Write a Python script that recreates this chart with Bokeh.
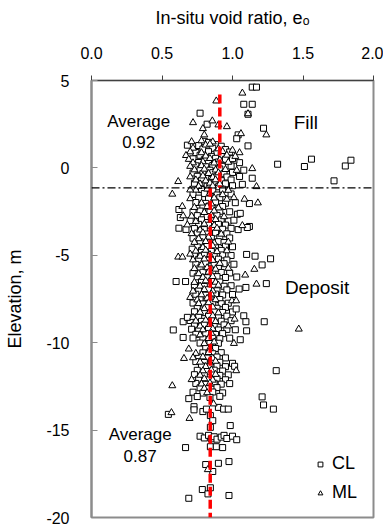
from bokeh.plotting import figure
from bokeh.models import (ColumnDataSource, Range1d, FixedTicker, Legend, LegendItem,
                          Span, Label, NumeralTickFormatter, PrintfTickFormatter)
from bokeh.embed import file_html
from bokeh.resources import INLINE

# ---------------- data ----------------
x_ticks = [0.0, 0.5, 1.0, 1.5, 2.0]
y_ticks = [-20, -15, -10, -5, 0, 5]

boundary_elev = -1.14          # fill / deposit boundary
fill_avg_x = 0.91              # drawn position of fill average line
fill_avg_top = 4.2
deposit_avg_x = 0.842          # drawn position of deposit average line

cl_fill_outliers = [(1.14, 4.62), (1.17, 4.62), (1.08, 3.64), (1.14, 3.64), (1.11, 3.07), (0.77, 3.13),
                    (0.82, 2.5), (1.22, 2.27), (1.04, 1.89), (1.03, 1.67), (0.68, 1.3), (1.11, 1.26),
                    (1.32, 0.21), (1.51, 0.08), (1.56, 0.5), (1.80, 0.11), (1.84, 0.44), (1.72, -0.74),
                    (1.14, -0.59), (1.08, -0.13), (1.05, 0.3), (1.01, 0.44)]
ml_fill_outliers = [(1.07, 4.28), (0.885, 3.83), (1.11, 3.1), (0.72, 2.59), (0.79, 2.25), (0.857, 2.69),
                    (0.90, 2.46), (0.96, 2.36), (0.80, 1.89), (0.71, 1.5), (1.06, 1.96), (1.24, 1.89),
                    (1.0, 1.01), (1.05, 0.87), (1.14, -0.04), (0.615, -0.78)]

cl_fill_core = [(0.80, 1.52), (0.83, 1.46), (0.76, 1.28), (0.88, 1.33), (0.92, 1.24), (0.79, 1.08),
                (0.86, 1.12), (0.95, 1.05), (0.74, 0.88), (0.83, 0.93), (0.89, 0.86), (0.98, 0.91),
                (0.77, 0.72), (0.85, 0.66), (0.92, 0.74), (0.72, 0.52), (0.80, 0.47), (0.88, 0.55),
                (0.95, 0.49), (1.00, 0.53), (0.76, 0.31), (0.83, 0.26), (0.90, 0.34), (0.74, 0.12),
                (0.81, 0.07), (0.86, 0.14), (0.93, 0.09), (0.99, 0.11), (0.77, -0.08), (0.84, -0.13),
                (0.91, -0.06), (0.72, -0.29), (0.79, -0.33), (0.86, -0.27), (0.94, -0.31), (1.00, -0.26),
                (0.75, -0.48), (0.82, -0.53), (0.89, -0.47), (0.96, -0.52), (1.05, -0.49), (0.78, -0.71),
                (0.85, -0.67), (0.92, -0.73), (0.99, -0.69), (0.73, -0.88), (0.80, -0.93), (0.87, -0.86),
                (0.95, -0.91), (1.07, -0.94), (0.82, -1.04), (0.90, -1.08), (1.00, -1.02)]
ml_fill_core = [(0.78, 1.55), (0.86, 1.49), (0.81, 1.31), (0.84, 1.36), (0.72, 1.13), (0.90, 1.09),
                (0.70, 0.92), (0.78, 0.87), (0.93, 0.94), (0.67, 0.71), (0.81, 0.68), (0.96, 0.73),
                (1.02, 0.66), (0.69, 0.49), (0.84, 0.54), (0.91, 0.46), (0.72, 0.29), (0.79, 0.35),
                (0.87, 0.28), (0.97, 0.32), (0.70, 0.09), (0.78, 0.13), (0.73, -0.11), (0.80, -0.07),
                (0.88, -0.12), (0.95, -0.09), (1.03, -0.14), (0.83, -0.32), (0.90, -0.28), (0.70, -0.51),
                (0.79, -0.46), (0.86, -0.54), (0.74, -0.69), (0.81, -0.74), (0.88, -0.68), (0.77, -0.91),
                (0.84, -0.87), (0.91, -0.92), (0.76, -1.06), (0.86, -1.03)]

cl_dep_outliers = [(1.12, -2.04), (0.62, -2.38), (0.63, -2.84), (0.62, -3.45), (1.035, -2.65), (1.055, -2.6),
                   (1.12, -3.35), (1.105, -3.41), (0.714, -4.65), (1.10, -4.95), (1.16, -5.05), (1.27, -5.2),
                   (1.21, -5.55), (0.60, -6.5), (0.667, -6.5), (1.24, -6.62), (1.095, -6.84), (1.047, -6.93),
                   (1.08, -8.46), (1.095, -8.8), (1.225, -8.8), (1.10, -9.32), (0.58, -9.27), (0.65, -9.7),
                   (0.65, -8.8), (0.68, -8.55), (1.026, -8.07), (1.055, -9.83), (1.0, -11.18), (1.015, -11.35),
                   (1.31, -11.6), (1.21, -13.1), (1.22, -13.56), (1.29, -13.8), (0.545, -14.1), (0.69, -13.2),
                   (0.727, -13.66), (0.727, -13.84), (0.79, -13.94), (0.815, -13.8), (0.90, -13.7),
                   (0.937, -13.8), (0.97, -13.8), (0.984, -14.74), (0.843, -14.17), (0.86, -14.46),
                   (0.843, -14.84), (0.77, -15.35), (0.80, -15.45), (0.83, -15.3), (0.85, -15.5),
                   (0.87, -15.38), (0.89, -15.52), (0.92, -15.4), (0.94, -15.3), (0.96, -15.48),
                   (1.0, -15.35), (1.03, -15.55), (0.667, -16.0), (0.843, -15.95), (0.885, -15.95),
                   (0.93, -16.0), (0.81, -16.97), (0.86, -17.37), (0.90, -16.9), (0.975, -16.8),
                   (0.786, -18.4), (0.843, -18.3), (0.826, -18.65), (0.69, -18.9), (0.975, -18.74)]
ml_dep_outliers = [(0.573, -1.5), (0.70, -1.26), (1.17, -1.07), (1.18, -2.0), (1.085, -1.79), (1.01, -1.7),
                   (0.644, -2.2), (0.65, -2.74), (1.07, -3.3), (0.615, -5.1), (0.645, -5.1), (0.70, -4.93),
                   (1.155, -5.8), (1.09, -6.13), (1.17, -6.65), (0.70, -7.41), (0.996, -7.6), (1.026, -7.6),
                   (1.015, -8.65), (1.47, -9.22), (0.656, -10.9), (0.69, -10.36), (1.026, -11.6),
                   (1.01, -10.04), (0.573, -12.46), (0.567, -14.0), (0.695, -14.33), (0.866, -13.5),
                   (0.825, -17.26)]

cl_dep_core = [(0.78, -1.24), (0.86, -1.30), (0.93, -1.22), (0.72, -1.52), (0.80, -1.47), (0.89, -1.55),
               (0.99, -1.49), (0.76, -1.73), (0.83, -1.78), (0.91, -1.71), (0.74, -1.98), (0.81, -2.03),
               (0.88, -1.96), (0.95, -2.02), (1.02, -1.99), (0.79, -2.23), (0.86, -2.28), (0.93, -2.21),
               (0.72, -2.52), (0.77, -2.47), (0.84, -2.53), (0.91, -2.48), (0.98, -2.51), (0.75, -2.73),
               (0.82, -2.78), (0.89, -2.72), (0.70, -3.02), (0.78, -2.97), (0.85, -3.03), (0.92, -2.98),
               (0.97, -3.04), (1.01, -2.99), (0.76, -3.23), (0.83, -3.28), (0.90, -3.22), (0.95, -3.27),
               (0.67, -3.52), (0.73, -3.47), (0.80, -3.53), (0.86, -3.48), (0.93, -3.51), (0.99, -3.46),
               (1.04, -3.53), (0.75, -3.73), (0.82, -3.78), (0.88, -3.72), (0.96, -3.77), (0.72, -4.02),
               (0.79, -3.97), (0.85, -4.03), (0.91, -3.98), (0.98, -4.01), (0.77, -4.23), (0.84, -4.28),
               (0.90, -4.22), (0.94, -4.27), (0.75, -4.52), (0.82, -4.47), (0.88, -4.53), (0.95, -4.48),
               (1.00, -4.51), (0.78, -4.73), (0.85, -4.78), (0.92, -4.72), (0.73, -5.02), (0.80, -4.97),
               (0.87, -5.03), (0.93, -4.98), (0.99, -5.01), (0.76, -5.23), (0.83, -5.28), (0.90, -5.22),
               (0.96, -5.27), (0.74, -5.52), (0.81, -5.47), (0.87, -5.53), (0.94, -5.48), (1.01, -5.51),
               (0.77, -5.73), (0.84, -5.78), (0.90, -5.72), (0.72, -6.02), (0.79, -5.97), (0.86, -6.03),
               (0.92, -5.98), (0.98, -6.01), (0.75, -6.23), (0.82, -6.28), (0.89, -6.22), (0.95, -6.27),
               (1.03, -6.24), (0.78, -6.52), (0.85, -6.47), (0.91, -6.53), (0.73, -6.73), (0.80, -6.78),
               (0.87, -6.72), (0.94, -6.77), (0.99, -6.74), (0.76, -7.02), (0.83, -6.97), (0.89, -7.03),
               (0.96, -6.98), (0.74, -7.23), (0.81, -7.28), (0.88, -7.22), (0.93, -7.27), (1.00, -7.24),
               (0.77, -7.52), (0.84, -7.47), (0.91, -7.53), (0.72, -7.73), (0.79, -7.78), (0.86, -7.72),
               (0.92, -7.77), (0.97, -7.74), (0.75, -8.02), (0.82, -7.97), (0.89, -8.03), (0.95, -7.98),
               (0.73, -8.23), (0.80, -8.28), (0.87, -8.22), (0.93, -8.27), (1.00, -8.24), (0.76, -8.52),
               (0.83, -8.47), (0.90, -8.53), (0.96, -8.48), (0.70, -8.73), (0.78, -8.78), (0.85, -8.72),
               (0.92, -8.77), (0.99, -8.74), (0.73, -9.02), (0.80, -8.97), (0.87, -9.03), (0.94, -8.98),
               (0.71, -9.23), (0.76, -9.28), (0.83, -9.22), (0.90, -9.27), (0.96, -9.24), (1.02, -9.26),
               (0.74, -9.52), (0.81, -9.47), (0.88, -9.53), (0.93, -9.48), (0.72, -9.73), (0.79, -9.78),
               (0.86, -9.72), (0.91, -9.77), (0.98, -9.74), (0.77, -10.02), (0.84, -9.97), (0.90, -10.03),
               (0.81, -10.28), (0.88, -10.33), (0.79, -10.58), (0.86, -10.63), (0.92, -10.57),
               (0.76, -10.83), (0.82, -10.88), (0.89, -10.82), (0.95, -10.87), (0.74, -11.08),
               (0.80, -11.13), (0.85, -11.07), (0.91, -11.12), (0.78, -11.33), (0.84, -11.38),
               (0.89, -11.32), (0.95, -11.37), (0.75, -11.58), (0.82, -11.63), (0.87, -11.57),
               (0.93, -11.62), (0.73, -11.83), (0.80, -11.88), (0.86, -11.82), (0.91, -11.87),
               (0.97, -11.84), (0.76, -12.08), (0.83, -12.13), (0.89, -12.07), (0.95, -12.12),
               (0.74, -12.33), (0.81, -12.38), (0.87, -12.32), (0.92, -12.37), (0.98, -12.34),
               (0.77, -12.58), (0.83, -12.63), (0.89, -12.57), (0.72, -12.83), (0.79, -12.88),
               (0.86, -12.82), (0.93, -12.87), (0.75, -13.08), (0.84, -13.13), (0.91, -13.07)]
ml_dep_core = [(0.74, -1.27), (0.82, -1.21), (0.97, -1.28), (0.84, -1.45), (0.93, -1.53), (0.70, -1.76),
               (0.87, -1.72), (0.96, -1.79), (0.78, -2.01), (0.85, -2.06), (0.73, -2.26), (0.82, -2.21),
               (0.90, -2.29), (0.80, -2.55), (0.87, -2.46), (0.71, -2.76), (0.85, -2.71), (0.94, -2.79),
               (0.74, -3.06), (0.88, -2.95), (0.68, -3.26), (0.80, -3.21), (0.87, -3.29), (0.77, -3.55),
               (0.89, -3.45), (0.71, -3.76), (0.79, -3.71), (0.92, -3.79), (0.76, -4.05), (0.83, -3.96),
               (0.73, -4.26), (0.81, -4.21), (0.87, -4.29), (0.97, -4.24), (0.79, -4.55), (0.86, -4.46),
               (0.74, -4.76), (0.81, -4.71), (0.89, -4.79), (0.96, -4.74), (0.77, -5.05), (0.84, -4.96),
               (0.72, -5.26), (0.80, -5.21), (0.86, -5.29), (0.78, -5.55), (0.91, -5.46), (0.73, -5.76),
               (0.82, -5.71), (0.88, -5.79), (0.97, -5.74), (0.76, -6.05), (0.83, -5.96), (0.79, -6.26),
               (0.86, -6.21), (0.73, -6.55), (0.81, -6.46), (0.88, -6.54), (0.77, -6.76), (0.90, -6.71),
               (0.72, -7.05), (0.80, -6.96), (0.86, -7.04), (0.78, -7.26), (0.85, -7.21), (0.75, -7.55),
               (0.82, -7.46), (0.88, -7.54), (0.76, -7.76), (0.83, -7.71), (0.80, -8.05), (0.86, -7.96),
               (0.77, -8.26), (0.84, -8.21), (0.90, -8.29), (0.72, -8.55), (0.86, -8.46), (0.74, -8.76),
               (0.81, -8.71), (0.88, -8.79), (0.77, -9.05), (0.84, -8.96), (0.97, -9.04), (0.79, -9.26),
               (0.86, -9.21), (0.77, -9.55), (0.85, -9.46), (0.83, -9.76), (0.80, -10.05), (0.87, -9.96),
               (0.84, -10.31), (0.74, -10.61), (0.83, -10.56), (0.72, -10.86), (0.79, -10.81),
               (0.86, -10.89), (0.77, -11.11), (0.88, -11.06), (0.81, -11.36), (0.79, -11.61),
               (0.85, -11.56), (0.77, -11.86), (0.88, -11.81), (0.71, -12.11), (0.80, -12.06),
               (0.86, -12.14), (0.78, -12.36), (0.84, -12.31), (0.80, -12.61), (0.82, -12.86)]

# ---------------- build ----------------
cl_pts = cl_fill_outliers + cl_fill_core + cl_dep_core + cl_dep_outliers
ml_pts = ml_fill_outliers + ml_fill_core + ml_dep_core + ml_dep_outliers
cl_src = ColumnDataSource(dict(x=[p[0] for p in cl_pts], y=[p[1] for p in cl_pts]))
ml_src = ColumnDataSource(dict(x=[p[0] for p in ml_pts], y=[p[1] for p in ml_pts]))

FONT = "Liberation Sans"

p = figure(width=383, height=530, x_range=Range1d(0, 2), y_range=Range1d(-20, 5),
           x_axis_location="above", output_backend="svg", toolbar_location=None,
           min_border_left=91, min_border_right=10, min_border_top=80, min_border_bottom=13,
           background_fill_color="white", border_fill_color="white")
p.grid.visible = False
p.outline_line_color = "#8c8c8c"
p.outline_line_width = 2

xa = p.xaxis[0]
xa.ticker = FixedTicker(ticks=x_ticks)
xa.formatter = NumeralTickFormatter(format="0.0")
xa.axis_label = "In-situ void ratio, e\u2092"
xa.axis_label_text_font = FONT
xa.axis_label_text_font_size = "18px"
xa.axis_label_text_font_style = "normal"
xa.axis_label_text_color = "black"
xa.axis_label_standoff = 16
xa.major_label_text_font = FONT
xa.major_label_text_font_size = "16px"
xa.major_label_text_color = "black"
xa.major_label_standoff = 17
xa.major_tick_in = 0
xa.major_tick_out = 5
xa.minor_tick_line_color = None
xa.axis_line_color = "#404040"
xa.major_tick_line_color = "#404040"

ya = p.yaxis[0]
ya.ticker = FixedTicker(ticks=y_ticks)
ya.formatter = PrintfTickFormatter(format="%d")
ya.axis_label = "Elevation, m"
ya.axis_label_text_font = FONT
ya.axis_label_text_font_size = "18px"
ya.axis_label_text_font_style = "normal"
ya.axis_label_text_color = "black"
ya.axis_label_standoff = 18
ya.major_label_text_font = FONT
ya.major_label_text_font_size = "16px"
ya.major_label_text_color = "black"
ya.major_label_standoff = 22
ya.major_tick_in = 6
ya.major_tick_out = 0
ya.minor_tick_line_color = None
ya.axis_line_color = "#8c8c8c"
ya.axis_line_width = 2
ya.major_tick_line_color = "#8c8c8c"

r_cl = p.scatter("x", "y", source=cl_src, marker="square", size=6, fill_color="white",
                 line_color="black", line_width=1)
r_ml = p.scatter("x", "y", source=ml_src, marker="triangle", size=7, fill_color="white",
                 line_color="black", line_width=1)

p.add_layout(Span(location=boundary_elev, dimension="width", line_color="black",
                  line_width=1.3, line_dash="8 3 2 3"))

avg_src = ColumnDataSource(dict(
    xs=[[fill_avg_x, fill_avg_x], [deposit_avg_x, deposit_avg_x]],
    ys=[[fill_avg_top, boundary_elev], [boundary_elev, -20]]))
p.multi_line("xs", "ys", source=avg_src, line_color="#ff0000", line_width=3.5, line_dash="9 4")

labels = [("Average", 0.335, 2.65, "17px"), ("0.92", 0.335, 1.49, "17px"),
          ("Fill", 1.52, 2.57, "19px"), ("Deposit", 1.60, -6.84, "19px"),
          ("Average", 0.345, -15.26, "17px"), ("0.87", 0.345, -16.46, "17px")]
for t, lx, ly, fs in labels:
    p.add_layout(Label(x=lx, y=ly, text=t, text_align="center", text_baseline="middle",
                       text_font=FONT, text_font_size=fs, text_color="black"))

legend = Legend(items=[LegendItem(label="CL", renderers=[r_cl]),
                       LegendItem(label="ML", renderers=[r_ml])],
                location=(223, 14), orientation="vertical",
                border_line_color=None, background_fill_alpha=0,
                glyph_width=12, glyph_height=12, label_standoff=6, spacing=8,
                padding=0, margin=0,
                label_text_font=FONT, label_text_font_size="18px", label_text_color="black")
p.add_layout(legend)

open("out.html", "w").write(file_html(p, INLINE))
